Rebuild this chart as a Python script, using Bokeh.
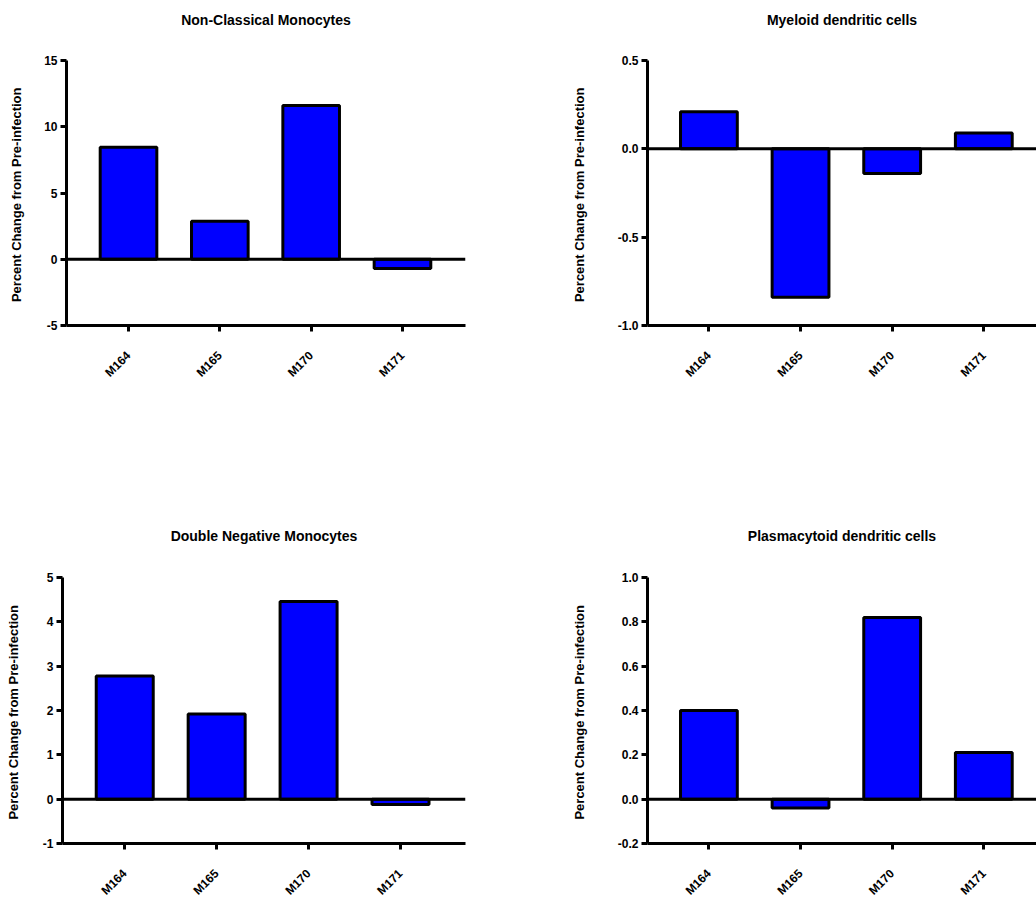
import math
from bokeh.plotting import figure
from bokeh.models import Range1d, FixedTicker, Span, Title
from bokeh.layouts import row, column
from bokeh.embed import file_html
from bokeh.resources import INLINE

animals = ["M164", "M165", "M170", "M171"]
positions = [1, 2, 3, 4]

nonclassical = [8.45, 2.86, 11.6, -0.7]
myeloid_dc = [0.21, -0.84, -0.14, 0.09]
double_neg = [2.78, 1.92, 4.46, -0.12]
plasmacytoid_dc = [0.40, -0.04, 0.82, 0.21]

titles = ["Non-Classical Monocytes", "Myeloid dendritic cells",
          "Double Negative Monocytes", "Plasmacytoid dendritic cells"]
y_ticks_a = [-5, 0, 5, 10, 15]
y_ticks_b = [-1.0, -0.5, 0.0, 0.5]
y_ticks_c = [-1, 0, 1, 2, 3, 4, 5]
y_ticks_d = [-0.2, 0.0, 0.2, 0.4, 0.6, 0.8, 1.0]
y_label = "Percent Change from  Pre-infection"

FONT = "Liberation Sans"


def panel(title, values, yticks, yfmt, width, height, bl, br, bt, bb,
          xstart, xend, label_standoff, gap):
    p = figure(width=width, height=height, output_backend="svg",
               toolbar_location=None, title=title,
               x_range=Range1d(xstart, xend),
               y_range=Range1d(yticks[0], yticks[-1]),
               min_border_left=bl, min_border_right=br,
               min_border_top=bt, min_border_bottom=bb)
    p.vbar(x=positions, top=values, bottom=0, width=0.62,
           fill_color="#0000FF", line_color="black", line_width=3)
    p.add_layout(Span(location=0, dimension="width", line_color="black",
                      line_width=3))
    p.outline_line_color = None
    p.grid.visible = False
    p.background_fill_color = "white"
    p.border_fill_color = "white"

    # blank spacer between the frame and the title
    p.add_layout(Title(text=" ", text_font_size="14px", standoff=gap), "above")

    p.title.align = "center"
    p.title.text_font = FONT
    p.title.text_font_style = "bold"
    p.title.text_font_size = "14px"
    p.title.text_color = "black"
    p.title.standoff = 4

    for ax in (p.xaxis[0], p.yaxis[0]):
        ax.axis_line_width = 3
        ax.axis_line_color = "black"
        ax.major_tick_line_width = 3
        ax.major_tick_line_color = "black"
        ax.major_tick_in = 0
        ax.major_tick_out = 6
        ax.minor_tick_line_color = None
        ax.major_label_text_font = FONT
        ax.major_label_text_font_style = "bold"
        ax.major_label_text_color = "black"

    p.xaxis.ticker = FixedTicker(ticks=positions)
    p.xaxis.major_label_overrides = {pos: name for pos, name in zip(positions, animals)}
    p.xaxis.major_label_orientation = math.pi / 4
    p.xaxis.major_label_text_font_size = "12px"
    p.xaxis.major_label_standoff = 22

    p.yaxis.ticker = FixedTicker(ticks=yticks)
    p.yaxis.major_label_overrides = {t: (yfmt % t) for t in yticks}
    p.yaxis.major_label_text_font_size = "12px"
    p.yaxis.major_label_standoff = 3
    p.yaxis.axis_label = y_label
    p.yaxis.axis_label_text_font = FONT
    p.yaxis.axis_label_text_font_style = "bold"
    p.yaxis.axis_label_text_font_size = "13px"
    p.yaxis.axis_label_text_color = "black"
    p.yaxis.axis_label_standoff = label_standoff
    return p


a = panel(titles[0], nonclassical, y_ticks_a, "%d", 568, 478, 66, 103, 59, 153,
          0.321, 4.69, 17, 13)
b = panel(titles[1], myeloid_dc, y_ticks_b, "%.1f", 468, 478, 77, 0, 60, 151,
          0.33, 4.575, 28, 13)
c = panel(titles[2], double_neg, y_ticks_c, "%d", 568, 427, 62, 103, 98, 62,
          0.323, 4.707, 19, 14)
d = panel(titles[3], plasmacytoid_dc, y_ticks_d, "%.1f", 468, 427, 77, 0, 99, 62,
          0.33, 4.575, 28, 14)

layout = column(row(a, b), row(c, d))
open("out.html", "w").write(file_html(layout, INLINE))
